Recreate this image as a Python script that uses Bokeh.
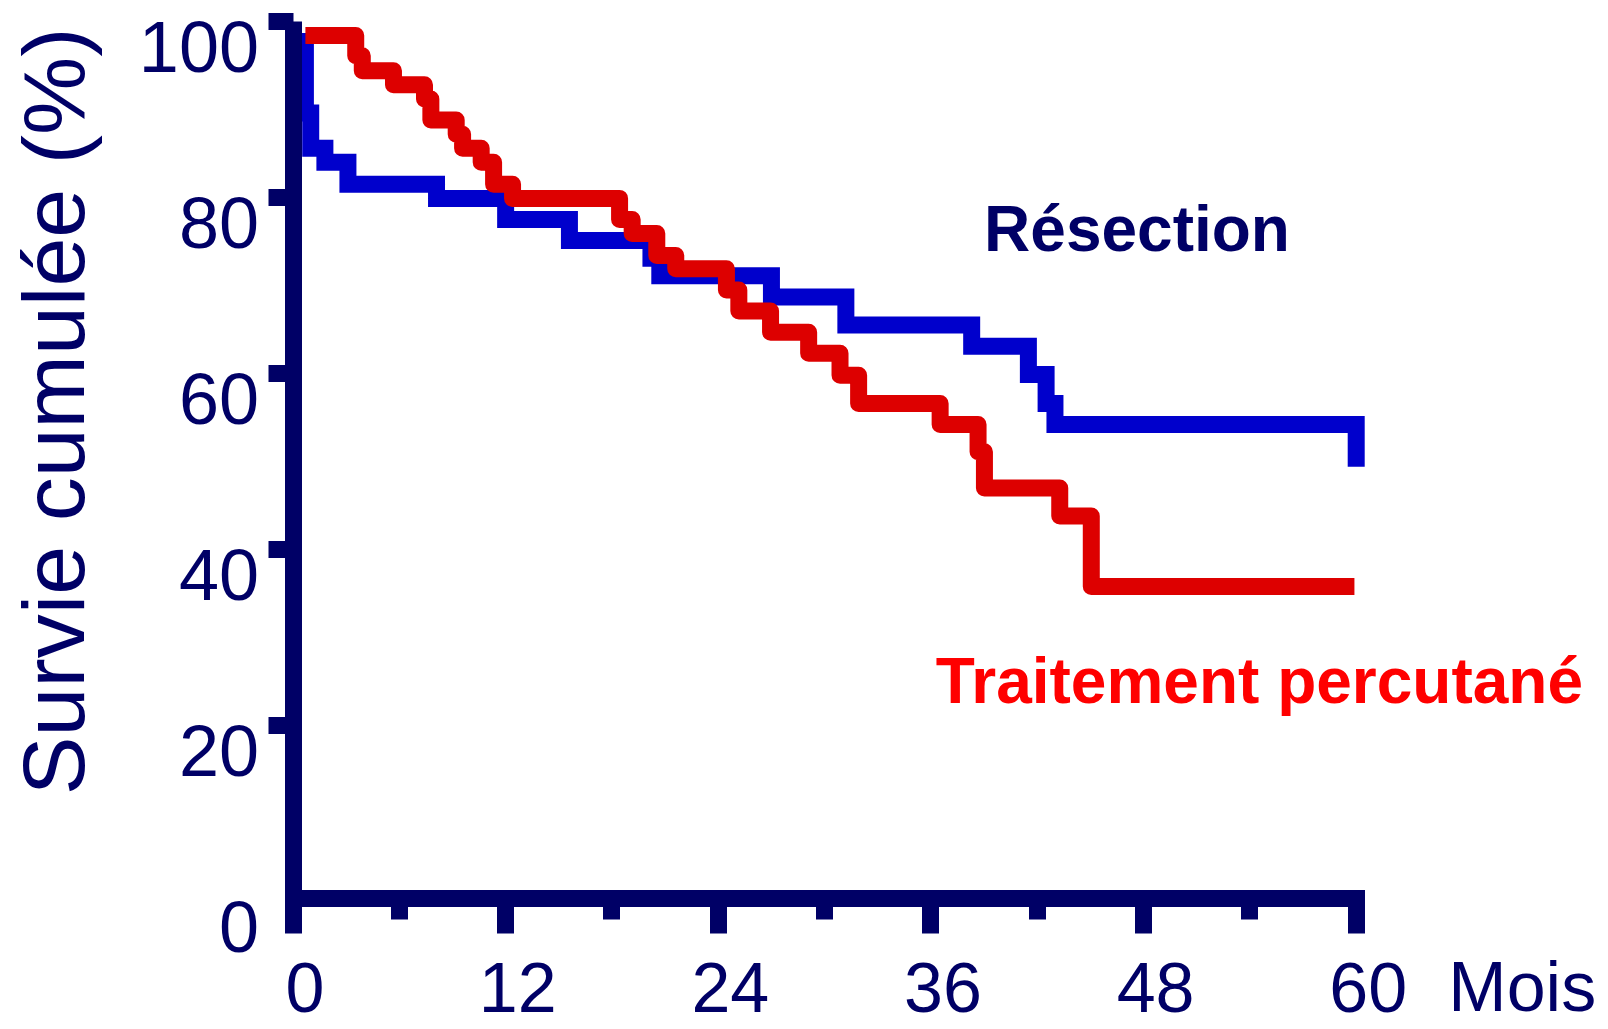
import math
from bokeh.plotting import figure
from bokeh.models import LinearAxis, FixedTicker, Range1d, Label, ColumnDataSource
from bokeh.embed import file_html
from bokeh.resources import INLINE

# ---------------- data ----------------
x_major_ticks = [0, 12, 24, 36, 48, 60]
x_minor_ticks = [6, 18, 30, 42, 54]
y_ticks = [20, 40, 60, 80, 100]
y_tick_labels = [0, 20, 40, 60, 80, 100]
x_title = "Mois"
y_title = "Survie cumulée (%)"

res_name = "Résection"
res_start_time = 0.7
res_start_surv = 98.7
res_times = [0.7, 1.0, 1.8, 3.1, 8.1, 12.0, 15.6, 20.2, 20.7, 27.0, 31.2,
             38.3, 41.5, 42.5, 43.0, 60.0]
res_surv = [89.6, 85.6, 84.0, 81.5, 79.9, 77.5, 75.1, 73.1, 71.1, 68.7, 65.5,
            63.1, 59.9, 56.6, 54.2, 49.4]
res_end_time = 60.0

perc_name = "Traitement percutané"
perc_start_time = 0.7
perc_start_surv = 98.4
perc_times = [3.54, 3.91, 5.67, 7.42, 7.78, 9.21, 9.57, 10.62, 11.32, 12.39,
              18.43, 19.14, 20.53, 21.60, 24.46, 25.16, 26.95, 29.10, 30.87,
              31.92, 36.52, 38.66, 39.02, 43.27, 45.05]
perc_surv = [96.1, 94.4, 92.8, 91.2, 88.8, 87.2, 85.6, 84.0, 81.5, 79.9,
             77.5, 75.9, 73.4, 71.9, 69.5, 67.1, 64.7, 62.3, 59.8,
             56.6, 54.2, 51.1, 47.0, 43.8, 35.8]
perc_end_time = 59.9


def km_steps(t0, s0, times, surv, t_end):
    xs, ys = [t0], [s0]
    cur = s0
    for t, s in zip(times, surv):
        for px, py in ((t, cur), (t, s)):
            if (px, py) != (xs[-1], ys[-1]):
                xs.append(px)
                ys.append(py)
        cur = s
    if t_end > xs[-1]:
        xs.append(t_end)
        ys.append(cur)
    return xs, ys


# ---------------- layout ----------------
W, H = 1604, 1029
X0_PX, X_SCALE = 292.5, 17.72     # canvas px of x=0, px per month
Y0_PX, Y_SCALE = 901.0, 8.8       # canvas px of y=0, px per %
X_MIN = -X0_PX / X_SCALE
X_MAX = (W - X0_PX) / X_SCALE
Y_MAX = Y0_PX / Y_SCALE
Y_MIN = -(H - Y0_PX) / Y_SCALE
X_AXIS_AT = 0.34
YLBL_SHIFT = 2.9
XLBL_SHIFT = 0.68

NAVY = "#000066"
BLUE = "#0000CC"
RED = "#DD0000"
TEXT_RED = "#FF0000"
FONT = "Liberation Sans"

p = figure(width=W, height=H,
           x_range=Range1d(X_MIN, X_MAX), y_range=Range1d(Y_MIN, Y_MAX),
           output_backend="svg", toolbar_location=None,
           x_axis_location=None, y_axis_location=None, min_border=0)
p.min_border_left = p.min_border_right = 0
p.min_border_top = p.min_border_bottom = 0
p.title.visible = False
p.outline_line_color = None
p.grid.visible = False
p.background_fill_color = "white"
p.border_fill_color = "white"

p.extra_x_ranges = {"xlbl": Range1d(X_MIN - XLBL_SHIFT, X_MAX - XLBL_SHIFT)}
p.extra_y_ranges = {"ylbl": Range1d(Y_MIN + YLBL_SHIFT, Y_MAX + YLBL_SHIFT)}

# axis lines and tick marks (no labels here)
xaxis = LinearAxis(fixed_location=X_AXIS_AT, bounds=(0, 60),
                   ticker=FixedTicker(ticks=x_major_ticks, minor_ticks=x_minor_ticks),
                   axis_line_color=NAVY, axis_line_width=17, axis_line_cap="square",
                   major_tick_line_color=NAVY, major_tick_line_width=17,
                   major_tick_in=0, major_tick_out=35,
                   minor_tick_line_color=NAVY, minor_tick_line_width=17,
                   minor_tick_in=0, minor_tick_out=21,
                   major_label_overrides={t: "" for t in x_major_ticks},
                   major_label_text_color=None)
p.add_layout(xaxis, "below")

yaxis = LinearAxis(fixed_location=0, bounds=(0, 100),
                   ticker=FixedTicker(ticks=y_ticks, minor_ticks=[]),
                   axis_line_color=NAVY, axis_line_width=17,
                   major_tick_line_color=NAVY, major_tick_line_width=17,
                   major_tick_in=0, major_tick_out=25,
                   minor_tick_line_color=None,
                   major_label_overrides={t: "" for t in y_ticks},
                   major_label_text_color=None)
p.add_layout(yaxis, "left")

# tick labels (slightly offset from their ticks, as in the reference)
ylab = LinearAxis(y_range_name="ylbl", fixed_location=0,
                  ticker=FixedTicker(ticks=y_tick_labels, minor_ticks=[]),
                  axis_line_color=None, major_tick_line_color=None,
                  minor_tick_line_color=None, major_tick_in=0, major_tick_out=0,
                  major_label_standoff=34,
                  major_label_text_font=FONT, major_label_text_font_size="72px",
                  major_label_text_color=NAVY)
p.add_layout(ylab, "left")

xlab = LinearAxis(x_range_name="xlbl", fixed_location=X_AXIS_AT,
                  ticker=FixedTicker(ticks=x_major_ticks, minor_ticks=[]),
                  axis_line_color=None, major_tick_line_color=None,
                  minor_tick_line_color=None, major_tick_in=0, major_tick_out=0,
                  major_label_standoff=64,
                  major_label_text_font=FONT, major_label_text_font_size="70px",
                  major_label_text_color=NAVY)
p.add_layout(xlab, "below")

# survival curves
rx, ry = km_steps(res_start_time, res_start_surv, res_times, res_surv, res_end_time)
px_, py_ = km_steps(perc_start_time, perc_start_surv, perc_times, perc_surv, perc_end_time)
p.line(x="x", y="y", source=ColumnDataSource(dict(x=rx, y=ry)),
       line_color=BLUE, line_width=17, line_join="miter", line_cap="butt")
p.line(x="x", y="y", source=ColumnDataSource(dict(x=px_, y=py_)),
       line_color=RED, line_width=17, line_join="round", line_cap="butt")

# texts (anchored at their vertical middle)
p.add_layout(Label(x=39.0, y=76.4, text=res_name, text_font=FONT,
                   text_font_style="bold", text_font_size="64px", text_color=NAVY,
                   text_align="left", text_baseline="middle"))
p.add_layout(Label(x=36.27, y=25.05, text=perc_name, text_font=FONT,
                   text_font_style="bold", text_font_size="64px", text_color=TEXT_RED,
                   text_align="left", text_baseline="middle"))
p.add_layout(Label(x=65.2, y=-9.66, text=x_title, text_font=FONT,
                   text_font_size="70px", text_color=NAVY,
                   text_align="left", text_baseline="middle"))
p.add_layout(Label(x=-13.5, y=55.7, text=y_title, angle=math.pi / 2, text_font=FONT,
                   text_font_size="88px", text_color=NAVY,
                   text_align="center", text_baseline="middle"))

open("out.html", "w").write(file_html(p, INLINE))
